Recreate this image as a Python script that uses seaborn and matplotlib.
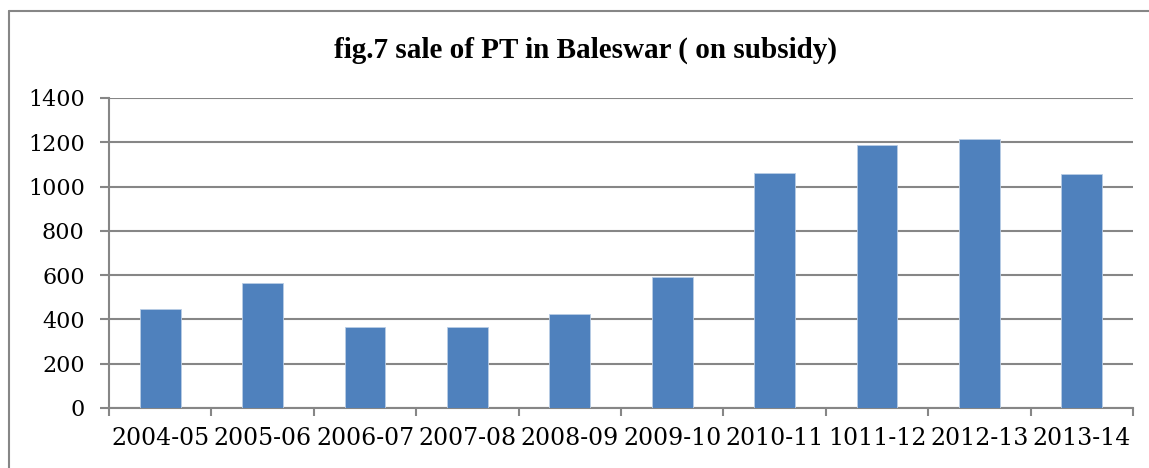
import matplotlib
matplotlib.use("Agg")
import matplotlib.pyplot as plt
import seaborn as sns
import pandas as pd
from matplotlib.lines import Line2D

years = ["2004-05", "2005-06", "2006-07", "2007-08", "2008-09",
         "2009-10", "2010-11", "1011-12", "2012-13", "2013-14"]
sales = [445, 565, 365, 365, 423, 590, 1063, 1186, 1215, 1055]
yticks = [0, 200, 400, 600, 800, 1000, 1200, 1400]

df = pd.DataFrame({"year": years, "sale": sales})

sns.set_theme(style="white")
plt.rcParams["font.family"] = ["DejaVu Serif", "Liberation Serif"]

fig = plt.figure(figsize=(11.49, 4.68), dpi=100)
ax = fig.add_axes([109/1149, 1 - 408/468, (1133-109)/1149, (408-98)/468])

sns.barplot(data=df, x="year", y="sale", color="#4F81BD", width=0.4,
            saturation=1, ax=ax, edgecolor="#B9CDE5", linewidth=0.6, zorder=3)

ax.set_ylim(0, 1400)
ax.set_xlim(-0.5, len(years) - 0.5)
ax.set_yticks(yticks)
ax.set_yticklabels([str(v) for v in yticks], fontsize=16, color="black")
ax.yaxis.grid(True, color="#868686", linewidth=1.5, zorder=0)
ax.set_axisbelow(True)
ax.set_xlabel("")
ax.set_ylabel("")
ax.set_xticks(range(len(years)))
ax.set_xticklabels(years, fontsize=17, color="black")
ax.tick_params(axis="x", length=0, pad=14)
ax.tick_params(axis="y", length=6.5, width=1.5, color="#868686", left=True, pad=11)
# category boundary ticks
ax.set_xticks([i - 0.5 for i in range(len(years) + 1)], minor=True)
ax.tick_params(axis="x", which="minor", length=6, width=1.5, color="#868686", bottom=True)

for s in ["top", "right"]:
    ax.spines[s].set_visible(False)
for s in ["left", "bottom"]:
    ax.spines[s].set_color("#868686")
    ax.spines[s].set_linewidth(1.5)

fig.text(586/1149, 1 - 50/468, "fig.7 sale of PT in Baleswar ( on subsidy)",
         ha="center", va="center", fontsize=21, fontweight="bold",
         family=["Liberation Serif"], color="black")

# outer frame: only top and left edges are visible in the crop
fig.lines.append(Line2D([9/1149, 9/1149], [0, 1 - 11/468], transform=fig.transFigure,
                        color="#868686", linewidth=1.5))
fig.lines.append(Line2D([9/1149, 1], [1 - 11/468, 1 - 11/468], transform=fig.transFigure,
                        color="#868686", linewidth=1.5))

fig.savefig("out.png", dpi=100)
